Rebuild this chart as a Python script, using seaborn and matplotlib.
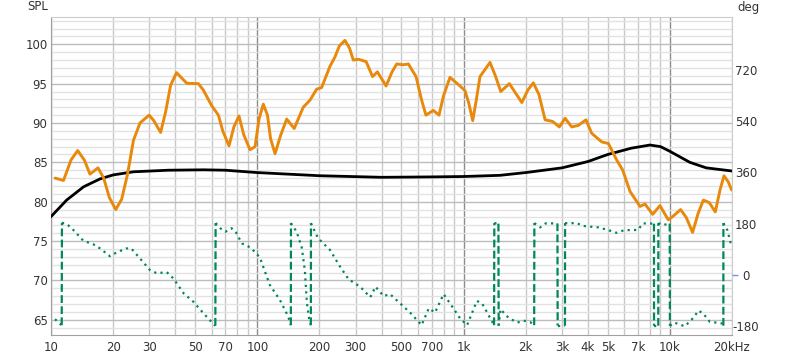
import numpy as np
import pandas as pd
import seaborn as sns
import matplotlib
matplotlib.use('Agg')
import matplotlib.pyplot as plt
from matplotlib.ticker import FixedLocator, NullFormatter

# SPL response (orange), Hz / dB
spl_freq = [10.46, 11.5, 12.5, 13.47, 14.5, 15.45, 16.9, 18.0, 19.2, 20.6, 22.0, 23.5, 25.1, 27.0,
            29.9, 31.5, 34.0, 36.0, 38.0, 40.6, 45.5, 51.8, 54.7, 60.1, 64.8, 68.0, 72.9, 77.0,
            81.5, 86.0, 92.2, 97.5, 102, 106.9, 112, 116, 121.9, 130, 138.8, 151, 167, 180, 194,
            205, 225, 238, 250, 266, 280, 292, 309, 337, 362, 382, 421, 450, 474, 511, 540, 588,
            626, 657, 713, 760, 800, 859, 961, 1016, 1060, 1107, 1150, 1201, 1343, 1430, 1514,
            1667, 1915, 2050, 2178, 2320, 2484, 2700, 2911, 3104, 3344, 3600, 3919, 4175, 4669,
            5030, 5522, 5909, 6409, 7164, 7575, 8254, 8950, 9820, 10300, 11270, 12000, 12880,
            13700, 14520, 15500, 16600, 17500, 18290, 19200, 19900]
spl_db = [83.0, 82.7, 85.3, 86.5, 85.3, 83.5, 84.3, 83.0, 80.5, 79.0, 80.3, 83.5, 87.8, 90.0,
          91.0, 90.3, 88.8, 91.5, 94.8, 96.4, 95.05, 95.0, 94.2, 92.2, 91.0, 89.0, 87.1, 89.5,
          90.9, 88.5, 86.6, 87.0, 90.5, 92.4, 91.0, 88.0, 86.1, 88.5, 90.5, 89.3, 92.0, 92.9, 94.3,
          94.5, 97.2, 98.4, 99.8, 100.5, 99.5, 98.0, 98.1, 97.8, 95.9, 96.5, 94.7, 96.5, 97.5, 97.4,
          97.5, 95.9, 92.9, 91.0, 91.6, 91.0, 93.5, 95.8, 94.7, 94.1, 92.5, 90.3, 92.8, 95.9, 97.7,
          95.9, 94.0, 95.0, 92.6, 94.2, 95.1, 93.6, 90.4, 90.2, 89.5, 90.6, 89.5, 89.7, 90.4, 88.7,
          87.6, 87.4, 85.3, 84.0, 81.3, 79.4, 79.7, 78.4, 79.5, 77.7, 78.1, 79.0, 78.0, 76.1, 78.5,
          80.2, 79.9, 78.7, 81.5, 83.3, 82.5, 81.5]

# second (black) curve, Hz / dB
ref_freq = [10, 11.9, 14.4, 17.3, 20, 25.1, 37, 55, 70, 100, 200, 400, 700, 1000, 1500, 2000,
            3000, 4000, 5000, 6500, 8000, 9000, 10000, 12500, 15000, 20000]
ref_db = [78.1, 80.2, 81.9, 82.9, 83.4, 83.8, 84.0, 84.05, 84.0, 83.7, 83.3, 83.1, 83.15, 83.2,
          83.35, 83.7, 84.3, 85.1, 86.0, 86.8, 87.2, 87.0, 86.4, 85.0, 84.3, 83.9]

# phase (green, wrapped), Hz / deg
ph_freq = [10.46, 11.0, 11.27, 11.3, 11.9, 12.6, 14.35, 16.0, 17.3, 19.3, 20.8, 23.1, 24.5, 27,
           30.2, 32.6, 36.4, 39.2, 43.9, 49.0, 54.8, 61.3, 62.6, 62.8, 66.1, 70.2, 75.0, 78.5,
           84.2, 92.2, 99.0, 103.3, 115, 128.8, 141.3, 145.4, 145.6, 155, 164, 170, 174, 178.6,
           181.8, 182, 197, 225, 252, 277, 315, 353, 374, 409, 440, 493, 554, 626, 678, 727, 800,
           860, 961, 1040, 1160, 1230, 1405, 1409, 1475, 1479, 1510, 1650, 1820, 1950, 2100,
           2198, 2203, 2350, 2500, 2850, 2857, 3100, 3104, 3300, 3500, 3800, 4170, 4500, 5000,
           5500, 6000, 7000, 7400, 8370, 8375, 8785, 8790, 9200, 9980, 10000, 10500, 11820,
           13000, 13750, 14500, 15600, 17900, 18160, 18170, 19000, 19900]
ph_deg = [-155, -170, -176, 183, 179, 164, 120, 108, 93, 66, 79, 93, 93, 58,
          17, 6, 10, -12, -64, -94, -134, -172, -178, 182, 164, 152, 164, 152,
          111, 97, 76, 58, -35, -88, -146, -176, 182, 152, 99, 17, -99, -158,
          -176, 182, 129, 88, 29, -15, -41, -78, -41, -74, -67, -100, -134, -176, -117, -132, -67,
          -100, -152, -176, -91, -100, -176, 182, 180, -178, -120, -150, -167, -160, -165,
          -176, 182, 167, 181, 181, -178, -178, 182, 181, 183, 172, 169, 167, 158,
          148, 157, 158, 181, 180, -178, -178, 182, 175, 180, -178, -167, -180,
          -150, -125, -135, -164, -170, -178, 182, 157, 99]

x_ticks = [10, 20, 30, 50, 70, 100, 200, 300, 500, 700, 1000, 2000, 3000, 4000, 5000, 7000,
           10000, 20000]
x_labels = ['10', '20', '30', '50', '70', '100', '200', '300', '500', '700', '1k', '2k', '3k',
            '4k', '5k', '7k', '10k', '20kHz']
spl_ticks = [65, 70, 75, 80, 85, 90, 95, 100]
deg_ticks = [-180, 0, 180, 360, 540, 720]

sns.set_style('white')
plt.rcParams['font.family'] = ['DejaVu Sans']

fig = plt.figure(figsize=(8, 3.58), dpi=100)
ax = fig.add_axes([51 / 800, 1 - 335 / 358, (732 - 51) / 800, (335 - 17) / 358])
ax.set_xscale('log')
ax.set_xlim(10, 20000)
ax.set_ylim(63.06, 103.47)

# grid
minor_x = [m * d for d in (10, 100, 1000, 10000) for m in range(1, 10)
           if m * d not in x_ticks and m * d <= 20000]
ax.xaxis.set_major_locator(FixedLocator(x_ticks))
ax.xaxis.set_minor_locator(FixedLocator(minor_x))
ax.xaxis.set_minor_formatter(NullFormatter())
ax.set_xticklabels(x_labels)
ax.yaxis.set_major_locator(FixedLocator(spl_ticks))
ax.yaxis.set_minor_locator(FixedLocator(list(range(64, 104))))
ax.grid(True, which='major', axis='y', color='#bcbcbc', lw=1.0)
ax.grid(True, which='minor', axis='y', color='#e2e2e2', lw=1.0)
ax.grid(True, which='both', axis='x', color='#c8c8c8', lw=1.0)
for t in ax.xaxis.get_major_ticks():
    if t.get_loc() in (10, 100, 1000, 10000):
        t.gridline.set_color('#8c8c8c')
ax.set_axisbelow(True)

ax.tick_params(which='both', length=0, labelsize=8.5, labelcolor='#333333')
ax.tick_params(axis='x', pad=4.5)
ax.tick_params(axis='y', pad=2.5)
for s in ('left', 'bottom'):
    ax.spines[s].set_color('#a0a0a0')
for s in ('top', 'right'):
    ax.spines[s].set_color('#cccccc')

df_spl = pd.DataFrame({'f': spl_freq, 'db': spl_db})
df_ref = pd.DataFrame({'f': ref_freq, 'db': ref_db})
sns.lineplot(data=df_ref, x='f', y='db', ax=ax, color='black', lw=2.0, zorder=3)
sns.lineplot(data=df_spl, x='f', y='db', ax=ax, color='#e8890c', lw=2.1, zorder=4)
ax.set_xlabel('')
ax.set_ylabel('')

# phase on twin axis
ax2 = ax.twinx()
ax2.set_ylim(-210.5, 904.8)
pf = np.array(ph_freq)
pd_ = np.array(ph_deg)
jumps = np.where(np.abs(np.diff(pd_)) > 250)[0]
start = 0
for j in list(jumps) + [len(pf) - 1]:
    ax2.plot(pf[start:j + 1], pd_[start:j + 1], color='#00875a', lw=1.6,
             linestyle=(0, (1, 1.9)), zorder=5)
    if j < len(pf) - 1:
        ax2.plot(pf[j:j + 2], pd_[j:j + 2], color='#00875a', lw=1.6,
                 linestyle=(0, (3.5, 1.5)), zorder=5)
    start = j + 1
ax2.set_xlim(10, 20000)

ax2.yaxis.set_major_locator(FixedLocator(deg_ticks))
ax2.set_yticklabels([str(v) for v in deg_ticks])
ax2.tick_params(axis='y', length=4.2, width=1.0, color='none', pad=6.0,
                labelsize=8.5, labelcolor='#333333')
for t in ax2.yaxis.get_major_ticks():
    t.label2.set_horizontalalignment('center')
    if t.get_loc() == 0:
        t.tick2line.set_markeredgecolor('#6a9bd8')
for s in ax2.spines.values():
    s.set_visible(False)

fig.text(38 / 800, 1 - 7 / 358, 'SPL', ha='center', va='center', fontsize=8.5, color='#333333')
fig.text(748 / 800, 1 - 7 / 358, 'deg', ha='center', va='center', fontsize=8.5, color='#333333')

fig.savefig('out.png', dpi=100)
